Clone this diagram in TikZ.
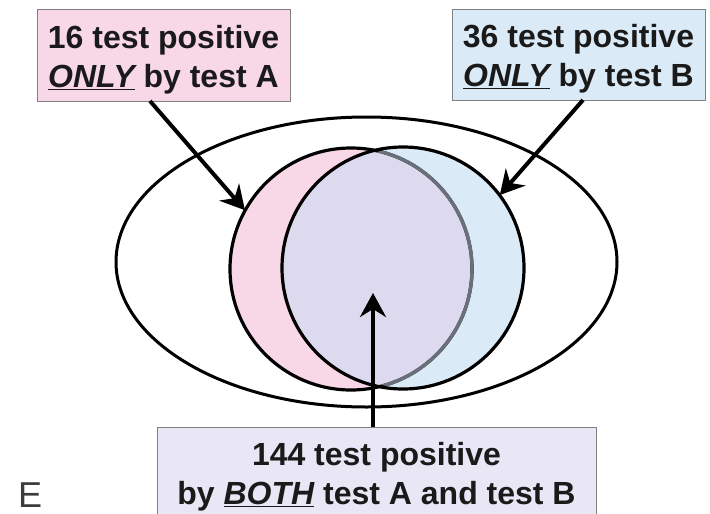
\documentclass[tikz,border=0pt]{standalone}
\usepackage{fontspec}
\setmainfont{Liberation Sans}
\usetikzlibrary{shapes.geometric,arrows.meta}
\definecolor{pinkA}{RGB}{248,215,231}
\definecolor{blueB}{RGB}{219,234,247}
\definecolor{lavAB}{RGB}{221,217,238}
\definecolor{lavBox}{RGB}{233,231,245}
\definecolor{boxEdge}{RGB}{128,128,128}
\definecolor{arcGray}{RGB}{105,112,122}
\definecolor{txt}{RGB}{26,26,26}
\tikzset{
  infobox/.style={draw=boxEdge, line width=1pt, rectangle, inner sep=0pt, align=center,
    text=txt, font=\fontsize{32}{39}\selectfont\bfseries},
  setcircle/.style={circle, inner sep=0pt, minimum size=242pt},
  pointer/.style={line width=4pt, -{Stealth[length=24pt, width=26pt, inset=8pt]}},
}
\begin{document}
\begin{tikzpicture}[x=1pt, y=-1pt]
\useasboundingbox (0,0) rectangle (710,514);
% outer ellipse
\node[ellipse, draw, line width=3pt, fill=white, inner sep=0pt,
      minimum width=501pt, minimum height=290pt] (outer) at (366.5,262) {};
% circles
\node[setcircle, fill=pinkA] (A) at (351,269) {};
\node[setcircle, fill=blueB] (B) at (403,268) {};
\begin{scope}
  \clip (351,269) circle[radius=121pt];
  \fill[lavAB] (403,268) circle[radius=121pt];
\end{scope}
\node[setcircle, draw, line width=3.2pt] (Aline) at (351,269) {};
\begin{scope}
  \clip (403,268) circle[radius=119pt];
  \draw[arcGray, line width=3.4pt] (351,269) circle[radius=121pt];
\end{scope}
\node[setcircle, draw, line width=3.2pt] (Bline) at (403,268) {};
% boxes
\node[infobox, fill=pinkA, minimum width=253pt, minimum height=92pt,
      text height=70pt, text depth=6pt] (boxA) at (163.5,55)
  {16 test positive\\\underline{\itshape ONLY} by test A};
\node[infobox, fill=blueB, minimum width=253pt, minimum height=91pt,
      text height=70pt, text depth=6pt] (boxB) at (578.5,54.5)
  {36 test positive\\\underline{\itshape ONLY} by test B};
\node[infobox, fill=lavBox, minimum width=439pt, minimum height=100pt] (boxC) at (376.5,477)
  {144 test positive\\by \underline{\itshape BOTH} test A and test B};
% label
\node[anchor=base west, inner sep=0pt, text={rgb,255:red,60;green,60;blue,60},
      font=\fontsize{36}{36}\selectfont] (lbl) at (18,507) {E};
% arrows
\coordinate (a0) at (150,101);
\coordinate (b0) at (583,100);
\coordinate (c0) at (373,427);
\coordinate (ctip) at (373,293);
\draw[pointer] (a0) -- (A.151);
\draw[pointer] (b0) -- (B.37);
\draw[pointer] (c0) -- (ctip);
\end{tikzpicture}
\end{document}
